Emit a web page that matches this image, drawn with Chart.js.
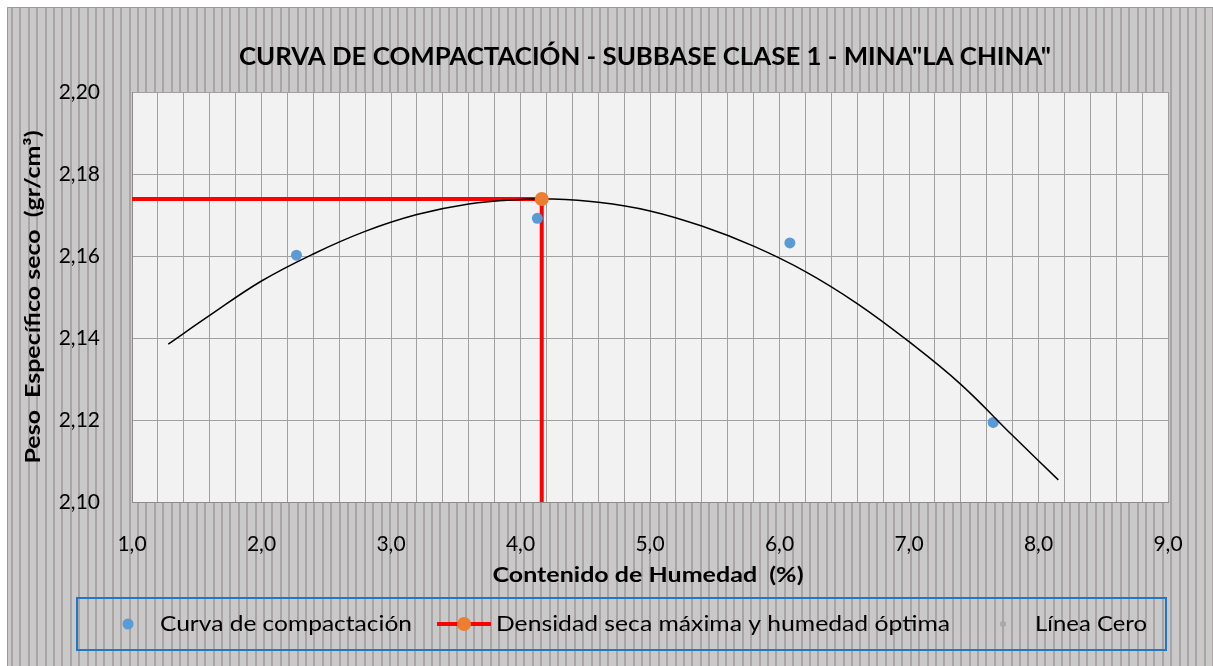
<!DOCTYPE html>
<html lang="es">
<head>
    <meta charset="UTF-8">
    <title>Curva de compactación</title>
    <style>
        body { margin: 0; background: #ffffff; }
        canvas { display: block; }
    </style>
</head>
<body>
    <canvas id="grafico" width="1213" height="666"></canvas>
    <script src="https://cdn.jsdelivr.net/npm/chart.js@4.4.1/dist/chart.umd.min.js"></script>
    <script>
        // datos
        const humedad = [2.27, 4.13, 6.08, 7.65];
        const pesoSeco = [2.1602, 2.1692, 2.1632, 2.1194];

        const humedadOptima = [4.164];
        const densidadMaxima = [2.1739];

        // linea roja de referencia (desde el eje hasta el punto y hasta abajo)
        const refX = [1.0, 4.164, 4.164];
        const refY = [2.1739, 2.1739, 2.10];

        // linea de tendencia
        const curvaX = [1.28, 1.6, 2.0, 2.4, 2.8, 3.2, 3.6, 4.0, 4.23, 4.6,
                        5.0, 5.4, 5.8, 6.2, 6.6, 7.0, 7.4, 7.8, 8.153];
        const curvaY = [2.1385, 2.1455, 2.1539, 2.1605, 2.1660, 2.1701, 2.1727, 2.1738, 2.1739, 2.1731,
                        2.1710, 2.1673, 2.1624, 2.1562, 2.1484, 2.1391, 2.1287, 2.1162, 2.1054];

        const xTicks = ['1,0', '2,0', '3,0', '4,0', '5,0', '6,0', '7,0', '8,0', '9,0'];
        const yTicks = ['2,10', '2,12', '2,14', '2,16', '2,18', '2,20'];

        const titulo = 'CURVA DE COMPACTACIÓN - SUBBASE CLASE 1 - MINA"LA CHINA"';
        const tituloX = 'Contenido de Humedad  (%)';
        const tituloY = 'Peso  Específico seco  (gr/cm³)';
        const leyenda = ['Curva de compactación', 'Densidad seca máxima y humedad óptima', 'Línea Cero'];

        const FUENTE = 'Lato, "Open Sans", sans-serif';

        function puntos(xs, ys) {
            return xs.map((x, i) => ({ x: x, y: ys[i] }));
        }

        // texto centrado y estirado horizontalmente al ancho deseado
        function texto(ctx, txt, cx, cy, font, ancho, girar) {
            ctx.save();
            ctx.font = font;
            const w = ctx.measureText(txt).width;
            ctx.translate(cx, cy);
            if (girar) ctx.rotate(-Math.PI / 2);
            ctx.scale(ancho / w, 1);
            ctx.textAlign = 'center';
            ctx.textBaseline = 'middle';
            ctx.fillStyle = '#000000';
            ctx.fillText(txt, 0, 0);
            ctx.restore();
        }

        function punto(ctx, x, y, r, color) {
            ctx.beginPath();
            ctx.arc(x, y, r, 0, Math.PI * 2);
            ctx.fillStyle = color;
            ctx.fill();
        }

        const decoracion = {
            id: 'decoracion',
            beforeDraw(chart) {
                const ctx = chart.ctx;
                const W = chart.width, H = chart.height;
                const a = chart.chartArea;
                ctx.save();
                ctx.fillStyle = '#ffffff';
                ctx.fillRect(0, 0, W, H);
                ctx.fillStyle = '#c9c9c9';
                ctx.fillRect(7, 7, W - 7, H - 7);
                // rayado vertical del fondo
                ctx.fillStyle = '#aba4a4';
                for (let x = 11; x < W; x += 8.4) {
                    ctx.fillRect(Math.round(x), 7, 2, H - 7);
                }
                ctx.strokeStyle = '#9a9a9a';
                ctx.lineWidth = 1;
                ctx.beginPath();
                ctx.moveTo(7.5, H);
                ctx.lineTo(7.5, 7.5);
                ctx.lineTo(W, 7.5);
                ctx.stroke();
                ctx.fillStyle = '#f2f2f2';
                ctx.fillRect(a.left, a.top, a.right - a.left, a.bottom - a.top);
                ctx.restore();
            },
            afterDraw(chart) {
                const ctx = chart.ctx;
                texto(ctx, titulo, 645, 57, 'bold 24px ' + FUENTE, 812);
                texto(ctx, tituloX, 648, 575, 'bold 21px ' + FUENTE, 311);
                texto(ctx, tituloY, 33, 297, 'bold 21px ' + FUENTE, 333, true);

                // leyenda
                ctx.save();
                ctx.strokeStyle = '#1f77c9';
                ctx.lineWidth = 2;
                ctx.strokeRect(77, 598, 1089, 52);
                punto(ctx, 128, 624, 5.5, '#5b9bd5');
                ctx.strokeStyle = '#ff0000';
                ctx.lineWidth = 4;
                ctx.beginPath();
                ctx.moveTo(437, 624);
                ctx.lineTo(491, 624);
                ctx.stroke();
                punto(ctx, 464, 624, 7, '#ed7d31');
                punto(ctx, 1003, 624, 3, '#a9a9a9');
                ctx.restore();
                texto(ctx, leyenda[0], 286, 624, '22px ' + FUENTE, 252);
                texto(ctx, leyenda[1], 723, 624, '22px ' + FUENTE, 454);
                texto(ctx, leyenda[2], 1091, 624, '22px ' + FUENTE, 112);
            }
        };

        const ctx = document.getElementById('grafico').getContext('2d');

        new Chart(ctx, {
            type: 'scatter',
            data: {
                datasets: [
                    {
                        label: 'Densidad seca máxima y humedad óptima',
                        data: puntos(humedadOptima, densidadMaxima),
                        pointRadius: 7,
                        pointBackgroundColor: '#ed7d31',
                        pointBorderWidth: 0,
                        order: 0
                    },
                    {
                        label: 'Tendencia',
                        data: puntos(curvaX, curvaY),
                        showLine: true,
                        borderColor: '#000000',
                        borderWidth: 1.5,
                        pointRadius: 0,
                        tension: 0.4,
                        order: 1
                    },
                    {
                        label: 'Curva de compactación',
                        data: puntos(humedad, pesoSeco),
                        pointRadius: 5.5,
                        pointBackgroundColor: '#5b9bd5',
                        pointBorderWidth: 0,
                        order: 2
                    },
                    {
                        label: 'Referencia',
                        data: puntos(refX, refY),
                        showLine: true,
                        borderColor: '#ff0000',
                        borderWidth: 4,
                        pointRadius: 0,
                        order: 3
                    },
                    {
                        label: 'Línea Cero',
                        data: [],
                        pointRadius: 3,
                        pointBackgroundColor: '#a9a9a9',
                        order: 4
                    }
                ]
            },
            options: {
                responsive: false,
                animation: false,
                devicePixelRatio: 1,
                layout: {
                    padding: { left: 0, top: 92, right: 45, bottom: 0 }
                },
                plugins: {
                    legend: { display: false },
                    title: { display: false },
                    tooltip: { enabled: false }
                },
                scales: {
                    x: {
                        type: 'linear',
                        min: 1,
                        max: 9,
                        afterFit(scale) { scale.height = 164; },
                        ticks: {
                            stepSize: 0.2,
                            autoSkip: false,
                            maxRotation: 0,
                            padding: 30,
                            color: '#000000',
                            font: { family: FUENTE, size: 21 },
                            callback(v) {
                                const n = Math.round(v);
                                return Math.abs(v - n) < 1e-6 ? xTicks[n - 1] : '';
                            }
                        },
                        grid: { color: '#a0a0a0', lineWidth: 1, drawTicks: false },
                        border: { color: '#8c8c8c' }
                    },
                    y: {
                        type: 'linear',
                        min: 2.10,
                        max: 2.20,
                        afterFit(scale) { scale.width = 132; },
                        ticks: {
                            stepSize: 0.02,
                            padding: 32,
                            color: '#000000',
                            font: { family: FUENTE, size: 21 },
                            callback(v) {
                                return yTicks[Math.round((v - 2.10) / 0.02)];
                            }
                        },
                        grid: { color: '#a0a0a0', lineWidth: 1, drawTicks: false },
                        border: { color: '#8c8c8c' }
                    }
                }
            },
            plugins: [decoracion]
        });
    </script>
</body>
</html>
